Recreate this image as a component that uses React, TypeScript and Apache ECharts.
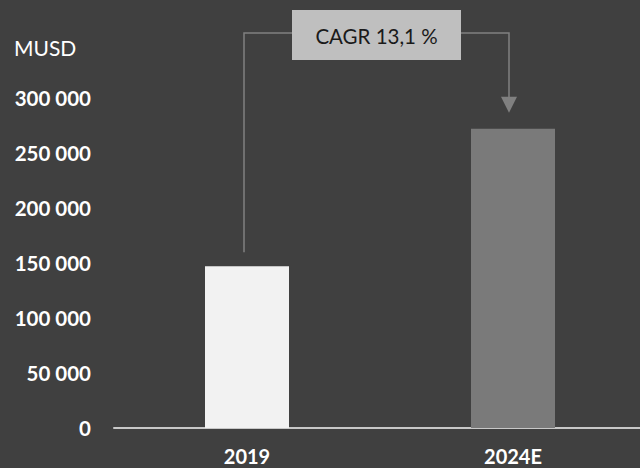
import React, { useEffect, useRef } from "react";
import * as echarts from "echarts";

const categories = ["2019", "2024E"];
const values = [147000, 272000];
const barColors = ["#f2f2f2", "#7a7a7a"];
const yTicks = [0, 50000, 100000, 150000, 200000, 250000, 300000];
const unitLabel = "MUSD";
const cagrLabel = "CAGR 13,1 %";

const fmt = (v: number) => {
  if (v === 0) return "0";
  const s = String(Math.round(v));
  return s.replace(/\B(?=(\d{3})+(?!\d))/g, " ");
};

export default function App() {
  const ref = useRef<HTMLDivElement>(null);
  useEffect(() => {
    if (!ref.current) return;
    const chart = echarts.init(ref.current, undefined, { renderer: "svg" });
    const font = "Lato, 'Open Sans', sans-serif";
    chart.setOption({
      animation: false,
      backgroundColor: "#404040",
      title: {
        text: unitLabel,
        left: 14,
        top: 36,
        padding: 0,
        textStyle: { color: "#ffffff", fontFamily: font, fontWeight: "normal", fontSize: 21, lineHeight: 22 },
      },
      grid: { left: 114, width: 532, top: 98, bottom: 40, outerBoundsMode: "none", containLabel: false },
      xAxis: {
        type: "category",
        data: categories,
        axisLine: { lineStyle: { color: "#c8c8c8", width: 2 } },
        axisTick: { show: false },
        axisLabel: {
          color: "#ffffff",
          fontFamily: font,
          fontWeight: "bold",
          fontSize: 20,
          lineHeight: 18,
          margin: 19,
        },
      },
      yAxis: {
        type: "value",
        min: yTicks[0],
        max: yTicks[yTicks.length - 1],
        interval: yTicks[1] - yTicks[0],
        splitLine: { show: false },
        axisLine: { show: false },
        axisTick: { show: false },
        axisLabel: {
          color: "#ffffff",
          fontFamily: font,
          fontWeight: "bold",
          fontSize: 20.5,
          margin: 23,
          formatter: (v: number) => fmt(v),
        },
      },
      series: [
        {
          type: "bar",
          barWidth: 84,
          data: values.map((v, i) => ({ value: v, itemStyle: { color: barColors[i] } })),
        },
      ],
    });

    const x0 = chart.convertToPixel({ xAxisIndex: 0 }, categories[0]) as number;
    const x1 = chart.convertToPixel({ xAxisIndex: 0 }, categories[1]) as number;
    const y0 = chart.convertToPixel({ yAxisIndex: 0 }, values[0]) as number;
    const y1 = chart.convertToPixel({ yAxisIndex: 0 }, values[1]) as number;
    const lx = x0 - 3;
    const rx = x1 - 4;
    const topY = 33;
    const boxW = 169;
    const boxH = 50;
    const midX = (lx + rx) / 2;
    const lineStyle = { stroke: "#808080", lineWidth: 1.5, fill: null };
    chart.setOption({
      graphic: [
        {
          type: "polyline",
          shape: { points: [[lx, y0 - 14], [lx, topY], [midX - boxW / 2, topY]] },
          style: lineStyle,
        },
        {
          type: "polyline",
          shape: { points: [[midX + boxW / 2, topY], [rx, topY], [rx, y1 - 30]] },
          style: lineStyle,
        },
        {
          type: "polygon",
          shape: { points: [[rx - 8, y1 - 32], [rx + 8, y1 - 32], [rx, y1 - 16]] },
          style: { fill: "#808080" },
        },
        {
          type: "rect",
          shape: { x: midX - boxW / 2, y: topY - 23, width: boxW, height: boxH },
          style: { fill: "#bfbfbf" },
        },
        {
          type: "text",
          x: midX,
          y: topY + 3,
          style: {
            text: cagrLabel,
            fill: "#1a1a1a",
            font: `20.5px ${font}`,
            textAlign: "center",
            textVerticalAlign: "middle",
          },
        },
      ],
    });
    return () => chart.dispose();
  }, []);
  return <div ref={ref} style={{ width: 640, height: 468, position: "absolute", left: 0, top: 0 }} />;
}
